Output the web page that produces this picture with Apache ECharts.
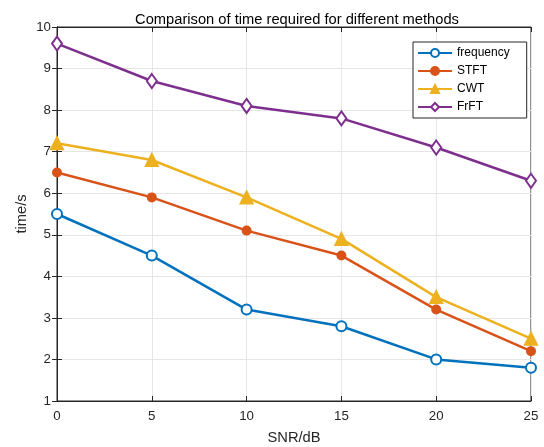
<!DOCTYPE html>
<html><head><meta charset="utf-8">
<script src="https://cdn.jsdelivr.net/npm/echarts@6/dist/echarts.min.js"></script>
<style>html,body{margin:0;padding:0;background:#fff}#c{width:544px;height:447px}</style>
</head><body><div id="c"></div>
<script>
const snr = [0, 5, 10, 15, 20, 25];
const frequency = [5.5, 4.5, 3.2, 2.8, 2.0, 1.8];
const stft = [6.5, 5.9, 5.1, 4.5, 3.2, 2.2];
const cwt = [7.2, 6.8, 5.9, 4.9, 3.5, 2.5];
const frft = [9.6, 8.7, 8.1, 7.8, 7.1, 6.3];
const names = ['frequency', 'STFT', 'CWT', 'FrFT'];
const colors = ['#0072BD', '#D95319', '#EDB120', '#7E2F8E'];
const symbols = ['emptyCircle', 'circle', 'triangle', 'emptyDiamond'];
const sizes = [10, 8, 12, [10, 14]];
const all = [frequency, stft, cwt, frft];

const font = 'Liberation Sans, Arial, sans-serif';
const chart = echarts.init(document.getElementById('c'), null, {renderer: 'canvas'});
const axisCommon = {
  axisLine: {show: true, lineStyle: {color: '#262626', width: 1}},
  axisTick: {show: true, inside: true, length: 5, lineStyle: {color: '#262626'}},
};
chart.setOption({
  animation: false,
  title: {text: 'Comparison of time required for different methods', left: 292, top: 7, textAlign: 'center',
    textStyle: {fontFamily: font, fontSize: 14.7, fontWeight: 'normal', color: '#000'}},
  grid: {left: 57, right: 13, top: 27, bottom: 46, show: true, borderColor: '#262626', borderWidth: 1,
    containLabel: false, outerBoundsMode: 'none'},
  legend: {
    orient: 'vertical', left: 413, top: 42, data: names,
    itemWidth: 34, itemHeight: 10, itemGap: 6,
    padding: [5, 17, 5, 4],
    borderColor: '#262626', borderWidth: 1, backgroundColor: '#fff',
    textStyle: {fontFamily: font, fontSize: 12, color: '#000'}
  },
  xAxis: [{
    type: 'value', min: 0, max: 25, interval: 5,
    name: 'SNR/dB', nameLocation: 'middle', nameGap: 29, nameMoveOverlap: false,
    nameTextStyle: {fontFamily: font, fontSize: 14.7, color: '#262626'},
    axisLabel: {fontFamily: font, fontSize: 13.3, color: '#262626', margin: 9},
    splitLine: {show: true, lineStyle: {color: '#e6e6e6'}},
    ...axisCommon
  }, {
    type: 'value', min: 0, max: 25, interval: 5, position: 'top',
    axisLabel: {show: false}, splitLine: {show: false}, ...axisCommon
  }],
  yAxis: [{
    type: 'value', min: 1, max: 10, interval: 1,
    name: 'time/s', nameLocation: 'middle', nameGap: 28, nameMoveOverlap: false,
    nameTextStyle: {fontFamily: font, fontSize: 14.7, color: '#262626'},
    axisLabel: {fontFamily: font, fontSize: 13.3, color: '#262626', margin: 6},
    splitLine: {show: true, lineStyle: {color: '#e6e6e6'}},
    ...axisCommon
  }, {
    type: 'value', min: 1, max: 10, interval: 1, position: 'right',
    axisLabel: {show: false}, splitLine: {show: false}, ...axisCommon
  }],
  series: names.map((n, i) => ({
    name: n, type: 'line',
    data: snr.map((x, j) => [x, all[i][j]]),
    symbol: symbols[i], symbolSize: sizes[i],
    lineStyle: {color: colors[i], width: 2.5},
    itemStyle: {color: colors[i], borderColor: colors[i], borderWidth: 2},
    z: 3 + i
  }))
});
</script></body></html>
